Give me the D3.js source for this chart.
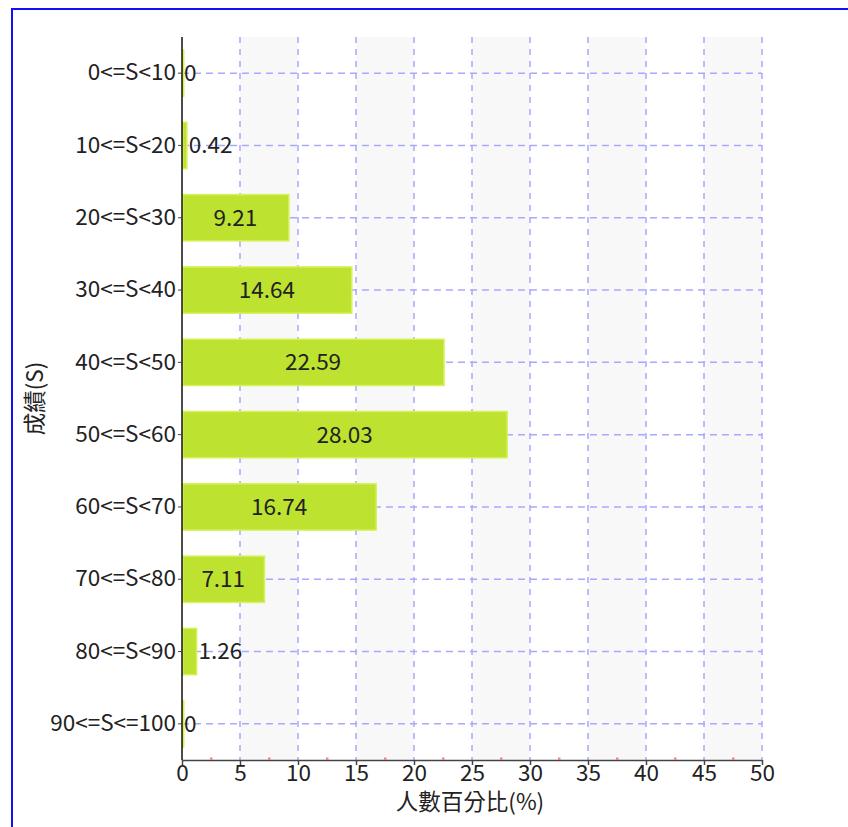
<!DOCTYPE html>
<html>
<head>
<meta charset="utf-8">
<script src="https://cdn.jsdelivr.net/npm/d3@7"></script>
<style>
  body { margin: 0; background: #fff; overflow: hidden; }
  svg text { font-family: "Noto Sans CJK TC", "Noto Sans", sans-serif; fill: #222; }
</style>
</head>
<body>
<svg id="chart" width="848" height="827"></svg>
<script>
// score ranges, top to bottom
const categories = ["0<=S<10", "10<=S<20", "20<=S<30", "30<=S<40", "40<=S<50",
  "50<=S<60", "60<=S<70", "70<=S<80", "80<=S<90", "90<=S<=100"];
// percentage of people
const percents = [0, 0.42, 9.21, 14.64, 22.59, 28.03, 16.74, 7.11, 1.26, 0];
const xTicks = [0, 5, 10, 15, 20, 25, 30, 35, 40, 45, 50];
const xMinorTicks = [2.5, 7.5, 12.5, 17.5, 22.5, 27.5, 32.5, 37.5, 42.5, 47.5];
const xTitle = "人數百分比(%)";
const yTitle = "成績(S)";

const data = categories.map((c, i) => ({ cat: c, value: percents[i] }));

const fontSize = "22.5px";
const svg = d3.select("#chart");
const margin = { top: 37, right: 86, bottom: 67, left: 182 };
const width = 848 - margin.left - margin.right;
const height = 827 - margin.top - margin.bottom;

// outer blue frame (runs off the right/bottom edge)
svg.append("rect")
  .attr("x", 12).attr("y", 9)
  .attr("width", 1000).attr("height", 1000)
  .attr("fill", "none")
  .attr("stroke", "#1010ff")
  .attr("stroke-width", 2);

const g = svg.append("g").attr("transform", `translate(${margin.left},${margin.top})`);

const x = d3.scaleLinear().domain([0, 50]).range([0, width]);
const y = d3.scaleBand().domain(categories).range([0, height]).paddingInner(0.36).paddingOuter(0.18);

// alternating shaded bands
const bands = d3.range(5, 50, 10);
g.selectAll(".band")
  .data(bands)
  .enter().append("rect")
  .attr("x", d => x(d))
  .attr("y", 0)
  .attr("width", d => x(d + 5) - x(d))
  .attr("height", height)
  .attr("fill", "#f8f8f8");

// vertical grid
g.selectAll(".vgrid")
  .data(xTicks.filter(d => d > 0))
  .enter().append("line")
  .attr("x1", d => x(d)).attr("x2", d => x(d))
  .attr("y1", 0).attr("y2", height)
  .attr("stroke", "#a8a8ff")
  .attr("stroke-width", 1.5)
  .attr("stroke-dasharray", "6,6");

// horizontal grid at category centres
g.selectAll(".hgrid")
  .data(categories)
  .enter().append("line")
  .attr("x1", 0).attr("x2", width)
  .attr("y1", d => y(d) + y.bandwidth() / 2)
  .attr("y2", d => y(d) + y.bandwidth() / 2)
  .attr("stroke", "#a8a8ff")
  .attr("stroke-width", 1.5)
  .attr("stroke-dasharray", "7,5");

// bars (a zero bar still shows as a thin sliver, like the original)
g.selectAll(".bar")
  .data(data)
  .enter().append("rect")
  .attr("x", x(0) + 0.75)
  .attr("y", d => y(d.cat))
  .attr("width", d => Math.max(x(d.value) - x(0) - 0.75, 1))
  .attr("height", y.bandwidth())
  .attr("fill", "#bde22f")
  .attr("stroke", "#d4f25a")
  .attr("stroke-width", 1.5);

// value labels: centred inside when they fit, otherwise right of bar end
const labels = g.selectAll(".val")
  .data(data)
  .enter().append("text")
  .attr("y", d => y(d.cat) + y.bandwidth() / 2)
  .attr("dy", "0.35em")
  .style("font-size", fontSize)
  .text(d => d.value);

labels.each(function (d) {
  const w = this.getComputedTextLength();
  const bw = x(d.value) - x(0);
  if (w + 8 < bw) {
    d3.select(this).attr("x", bw / 2).attr("text-anchor", "middle");
  } else {
    d3.select(this).attr("x", bw + 2).attr("text-anchor", "start");
  }
});

// x axis
const xAxis = g.append("g")
  .attr("transform", `translate(0,${height})`)
  .call(d3.axisBottom(x).tickValues(xTicks).tickSize(5).tickSizeOuter(0));
xAxis.select(".domain").attr("stroke", "#444").attr("stroke-width", 1.5);
xAxis.selectAll(".tick line").attr("stroke", "#444").attr("stroke-width", 1.5);
xAxis.selectAll(".tick text")
  .style("font-size", fontSize)
  .attr("fill", "#222")
  .attr("dy", "0.8em")
  .attr("y", 3);

// minor tick dots
g.selectAll(".minor")
  .data(xMinorTicks)
  .enter().append("rect")
  .attr("x", d => x(d) - 1)
  .attr("y", height - 2.5)
  .attr("width", 2.5)
  .attr("height", 2.5)
  .attr("fill", "#ff8080");

// y axis
const yAxis = g.append("g")
  .call(d3.axisLeft(y).tickSize(4).tickSizeOuter(0));
yAxis.select(".domain").attr("stroke", "#111").attr("stroke-width", 1.5)
  .attr("d", `M0,0V${height}`);
yAxis.selectAll(".tick line").attr("stroke", "#444");
yAxis.selectAll(".tick text")
  .style("font-size", fontSize)
  .attr("fill", "#222")
  .attr("x", -6);

// axis titles
g.append("text")
  .attr("x", width / 2 - 2)
  .attr("y", height + 50)
  .attr("text-anchor", "middle")
  .style("font-size", fontSize)
  .text(xTitle);

g.append("text")
  .attr("transform", `translate(${-139},${height / 2}) rotate(-90)`)
  .attr("text-anchor", "middle")
  .style("font-size", fontSize)
  .text(yTitle);
</script>
</body>
</html>
